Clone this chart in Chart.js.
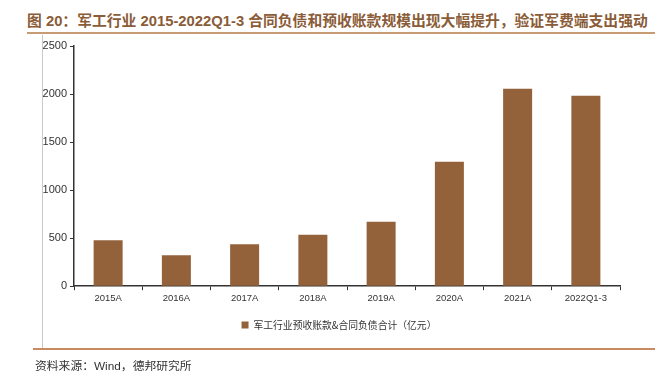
<!DOCTYPE html>
<html>
<head>
<meta charset="utf-8">
<script src="https://cdn.jsdelivr.net/npm/chart.js@4"></script>
<style>
  html, body { margin: 0; padding: 0; background: #fff; }
  #wrap { position: relative; width: 658px; height: 377px; overflow: hidden; }
  #chart { position: absolute; left: 0; top: 0; }
  .title { position: absolute; left: 27px; top: 9px; white-space: nowrap;
    font: bold 14.8px "Liberation Sans", "Noto Sans CJK SC", sans-serif; color: #8a5c38; }
  .line-top { position: absolute; left: 27px; top: 32px; width: 628px; height: 2px; background: #c89c72; }
  .line-left { position: absolute; left: 42px; top: 35px; width: 1px; height: 313px; background: #c8c8c8; }
  .line-bottom { position: absolute; left: 33px; top: 348px; width: 622px; height: 1.5px; background: #c98a5e; }
  .source { position: absolute; left: 35px; top: 356px; white-space: nowrap;
    font: 11.8px "Liberation Sans", "Noto Sans CJK SC", sans-serif; color: #333; }
</style>
</head>
<body>
<div id="wrap">
  <div class="title">图 20：军工行业 2015-2022Q1-3 合同负债和预收账款规模出现大幅提升，验证军费端支出强动</div>
  <div class="line-top"></div>
  <div class="line-left"></div>
  <div class="line-bottom"></div>
  <canvas id="chart" width="658" height="377"></canvas>
  <div class="source">资料来源：Wind，德邦研究所</div>
</div>
<script>
// values (亿元)
const categories = ['2015A', '2016A', '2017A', '2018A', '2019A', '2020A', '2021A', '2022Q1-3'];
const seriesName = '军工行业预收账款&合同负债合计（亿元）';
const values = [478, 321, 436, 535, 672, 1295, 2055, 1982];
const yTicks = [0, 500, 1000, 1500, 2000, 2500];

const barColor = '#93623a';
const axisColor = '#333333';

new Chart(document.getElementById('chart'), {
  type: 'bar',
  data: {
    labels: categories,
    datasets: [{
      label: seriesName,
      data: values,
      yAxisID: 'y',
      backgroundColor: barColor,
      borderWidth: 0,
      categoryPercentage: 1,
      barPercentage: 0.425
    }]
  },
  options: {
    responsive: false,
    animation: false,
    layout: { padding: { left: 20, right: 0, top: 46, bottom: 37 } },
    plugins: {
      tooltip: { enabled: false },
      legend: {
        position: 'bottom',
        labels: {
          boxWidth: 7,
          boxHeight: 7,
          padding: 10,
          color: '#333',
          font: { family: '"Noto Sans CJK SC", sans-serif', size: 9.8 }
        }
      }
    },
    scales: {
      x: {
        grid: { display: true, drawOnChartArea: false, offset: true, tickLength: 4, color: axisColor },
        border: { color: axisColor, width: 1.5 },
        ticks: {
          color: '#333',
          padding: 2,
          maxRotation: 0,
          font: { family: '"Liberation Sans", sans-serif', size: 9.5 }
        },
        afterFit: s => { s.height = 24; }
      },
      y: {
        min: 0,
        max: 2500,
        afterBuildTicks: s => { s.ticks = yTicks.map(v => ({ value: v })); },
        grid: { display: true, drawOnChartArea: false, tickLength: 4, color: axisColor },
        border: { color: axisColor, width: 1.5 },
        ticks: {
          color: '#333',
          padding: 3,
          callback: v => String(v),
          font: { family: '"Liberation Sans", sans-serif', size: 11 }
        },
        afterFit: s => { s.width = 54; }
      },
      yRight: {
        position: 'right',
        display: true,
        min: 0,
        max: 2500,
        grid: { display: false },
        border: { display: false },
        ticks: { display: false },
        afterFit: s => { s.width = 38; }
      }
    }
  }
});
</script>
</body>
</html>
